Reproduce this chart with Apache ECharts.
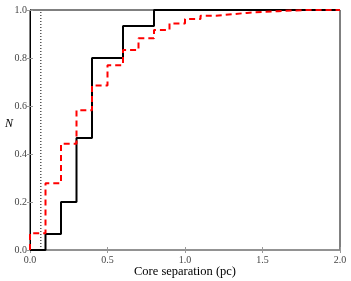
<!DOCTYPE html>
<html><head><meta charset="utf-8">
<script src="https://cdn.jsdelivr.net/npm/echarts@6/dist/echarts.min.js"></script>
<style>html,body{margin:0;padding:0;background:#fff}#c{width:351px;height:281px}</style>
</head><body><div id="c"></div>
<script>
// bin left edges (pc)
const edges = [0.0,0.1,0.2,0.3,0.4,0.5,0.6,0.7,0.8,0.9,1.0,1.1,1.2,1.3,1.4,1.5,1.6,1.7,1.8,1.9,2.0];
// cumulative fraction, black solid
const blackN = [0.0,0.0667,0.2,0.4667,0.8,0.8,0.9333,0.9333,1.0,1.0,1.0,1.0,1.0,1.0,1.0,1.0,1.0,1.0,1.0,1.0,1.0];
// cumulative fraction, red dashed
const redN = [0.07,0.278,0.443,0.582,0.685,0.770,0.833,0.882,0.917,0.944,0.962,0.976,0.982,0.988,0.992,0.995,0.998,1.0,1.0,1.0,1.0];
const dottedX = 0.07;
const xTicks = ['0.0','0.5','1.0','1.5','2.0'];
const yTicks = ['0.0','0.2','0.4','0.6','0.8','1.0'];

const font = 'Liberation Serif';
const chart = echarts.init(document.getElementById('c'));
const blackData = [[0,0]].concat(edges.map((x,i)=>[x,blackN[i]]));
const redData = [[0,0]].concat(edges.map((x,i)=>[x,redN[i]]));
const tickStyle = {show:true, inside:true, length:3, lineStyle:{color:'#999', width:1}};
chart.setOption({
  animation:false,
  grid:{left:30, right:11, top:10, bottom:31, containLabel:false, outerBoundsMode:'none',
    show:true, borderColor:'#000', borderWidth:1},
  xAxis:[{type:'value', min:0, max:2, interval:0.5,
    axisLine:{show:true, lineStyle:{color:'#999', width:1.5}},
    axisTick:tickStyle, splitLine:{show:false},
    axisLabel:{color:'#444', fontFamily:font, fontSize:10, margin:5, formatter:v=>xTicks[Math.round(v/0.5)]},
    name:'Core separation (pc)', nameLocation:'middle', nameGap:15, nameMoveOverlap:false,
    nameTextStyle:{color:'#000', fontFamily:font, fontSize:12.5}},
    {type:'value', position:'top', min:0, max:2, interval:0.5, axisLine:{show:false},
    axisTick:tickStyle, axisLabel:{show:false}, splitLine:{show:false}}],
  yAxis:[{type:'value', min:0, max:1, interval:0.2,
    axisLine:{show:true, lineStyle:{color:'#000', width:1}},
    axisTick:tickStyle, splitLine:{show:false},
    axisLabel:{color:'#444', fontFamily:font, fontSize:10, margin:3, formatter:v=>yTicks[Math.round(v/0.2)]},
    name:'N', nameLocation:'middle', nameGap:17, nameRotate:0, nameMoveOverlap:false,
    nameTextStyle:{color:'#000', fontFamily:font, fontStyle:'italic', fontSize:12, verticalAlign:'bottom'}},
    {type:'value', position:'right', min:0, max:1, interval:0.2, axisLine:{show:false},
    axisTick:tickStyle, axisLabel:{show:false}, splitLine:{show:false}}],
  series:[
    {type:'line', data:[[dottedX,0],[dottedX,1]], symbol:'none', silent:true,
     lineStyle:{color:'#000', width:1, type:[1,2]}},
    {type:'line', step:'end', data:blackData, symbol:'none',
     lineStyle:{color:'#000', width:2}},
    {type:'line', step:'end', data:redData, symbol:'none',
     lineStyle:{color:'#ff0000', width:2, type:[6,4]}}
  ]
});
</script></body></html>
